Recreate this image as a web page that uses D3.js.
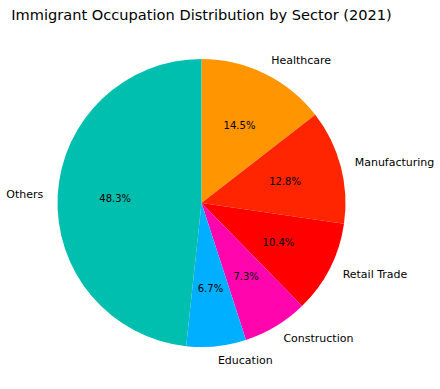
<!DOCTYPE html>
<html><head><meta charset="utf-8">
<script src="https://cdn.jsdelivr.net/npm/d3@7"></script>
<style>body{margin:0;background:#fff}svg{display:block}text{font-family:"DejaVu Sans",sans-serif}</style>
</head><body>
<svg id="c" width="440" height="389"></svg>
<script>
const categories = ["Healthcare","Manufacturing","Retail Trade","Construction","Education","Others"];
const values = [14.5,12.8,10.4,7.3,6.7,48.3];
const colors = ["#FF9500","#FF2500","#FF0000","#FF05AE","#00AFFF","#00BFAE"];
const title = "Immigrant Occupation Distribution by Sector (2021)";

const svg = d3.select("#c");
const cx = 201.5, cy = 203, r = 144;
const g = svg.append("g").attr("transform",`translate(${cx},${cy})`);
const pie = d3.pie().sort(null).value(d=>d.v).startAngle(0).endAngle(2*Math.PI);
const data = pie(categories.map((c,i)=>({c,v:values[i],col:colors[i]})));
const arc = d3.arc().innerRadius(0).outerRadius(r);
g.selectAll("path.s").data(data).join("path").attr("class","s")
  .attr("d",arc).attr("fill",d=>d.data.col);
const mid = d=>(d.startAngle+d.endAngle)/2;
g.selectAll("text.l").data(data).join("text").attr("class","l")
  .attr("x",d=>1.1*r*Math.sin(mid(d)))
  .attr("y",d=>-1.1*r*Math.cos(mid(d)))
  .attr("text-anchor",d=>Math.sin(mid(d))>=0?"start":"end")
  .attr("dominant-baseline","central")
  .attr("font-size",11).attr("fill","#000")
  .text(d=>d.data.c);
g.selectAll("text.p").data(data).join("text").attr("class","p")
  .attr("x",d=>0.6*r*Math.sin(mid(d)))
  .attr("y",d=>-0.6*r*Math.cos(mid(d)))
  .attr("text-anchor","middle")
  .attr("dominant-baseline","central")
  .attr("font-size",10).attr("fill","#000")
  .text(d=>d.data.v.toFixed(1)+"%");
svg.append("text").attr("x",cx).attr("y",20).attr("text-anchor","middle")
  .attr("font-size",14.6).attr("fill","#000").text(title);
</script>
</body></html>
